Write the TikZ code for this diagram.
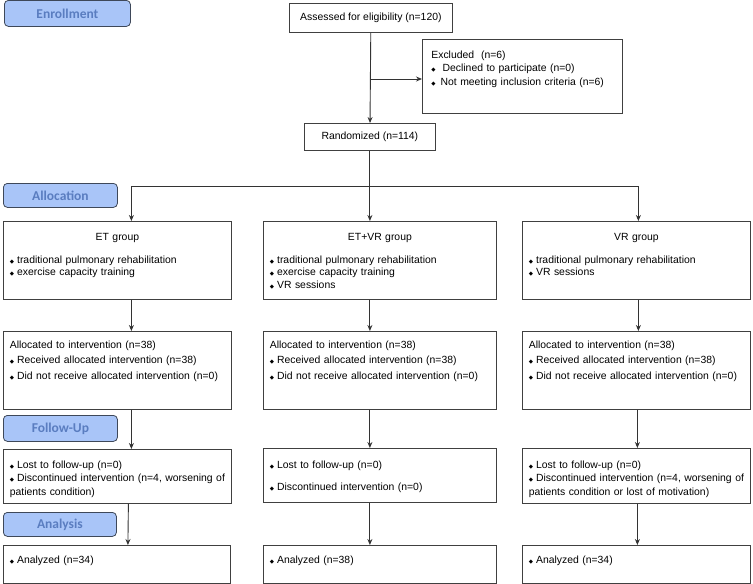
\documentclass[tikz,border=0pt]{standalone}
\usepackage{fontspec}
\setmainfont{Liberation Sans}
\newfontfamily\phasefont{Carlito}
\newfontfamily\symfont{DejaVu Sans}
\usetikzlibrary{arrows.meta}

\definecolor{phasefill}{HTML}{A9C5F8}
\definecolor{phasetext}{HTML}{5A7DC0}
\definecolor{phaseline}{HTML}{3E4859}

% small diamond bullet
\newcommand\bul{{\symfont\fontsize{5.5}{5}\selectfont ◆}\hspace{3pt}}

\begin{document}
\begin{tikzpicture}[x=1pt,y=-1pt,
    phase/.style={draw=phaseline, fill=phasefill, rounded corners=4pt, line width=0.8pt, anchor=north west, inner sep=0pt, text=phasetext, font=\fontsize{13.5}{15}\selectfont\phasefont\bfseries},
    box/.style={draw=black!75, line width=0.8pt, anchor=north west, inner xsep=6.5pt, inner ysep=0pt, align=left, font=\fontsize{10.4}{13.5}\selectfont},
    onebox/.style={draw=black!75, line width=0.8pt, anchor=north west, inner sep=0pt, font=\fontsize{10.4}{13.5}\selectfont},
    arr/.style={draw=black!80, line width=0.9pt, -{Stealth[length=6pt,width=5pt]}}]

    \useasboundingbox (0,0) rectangle (753,584);

    % Phase labels
    \node[phase, minimum width=126pt, minimum height=26pt] (enrol) at (4,0) {Enrollment};
    \node[phase, minimum width=114pt, minimum height=24pt] (alloc) at (3,183) {Allocation};
    \node[phase, minimum width=114pt, minimum height=26pt] (follow) at (3,415) {Follow-Up};
    \node[phase, minimum width=113pt, minimum height=24pt] (analys) at (3,512) {Analysis};

    % Enrollment
    \node[onebox, minimum width=163pt, minimum height=29pt] (assess) at (289,3) {Assessed for eligibility (n=120)};
    \node[box, inner xsep=9pt, text width=182pt, text height=18.7pt, text depth=55.3pt] (excl) at (422,39)
        {Excluded\ \ (n=6)\\\bul\hspace{4pt}Declined to participate (n=0)\\\bul\hspace{2pt}Not meeting inclusion criteria (n=6)};
    \node[onebox, minimum width=131pt, minimum height=27pt] (rand) at (304,123) {Randomized (n=114)};

    % Groups
    \node[box, text width=215pt, text height=18.7pt, text depth=59.3pt] (et) at (3,221)
        {\makebox[\linewidth]{ET group}\\[9.5pt]\bul traditional pulmonary rehabilitation\\[-1pt]\bul exercise capacity training};
    \node[box, text width=220pt, text height=18.7pt, text depth=59.3pt] (etvr) at (263,221)
        {\makebox[\linewidth]{ET+VR group}\\[9.5pt]\bul traditional pulmonary rehabilitation\\[-1pt]\bul exercise capacity training\\[-1pt]\bul VR sessions};
    \node[box, text width=215pt, text height=18.7pt, text depth=59.3pt] (vr) at (522,221)
        {\makebox[\linewidth]{VR group}\\[9.5pt]\bul traditional pulmonary rehabilitation\\[-1pt]\bul VR sessions};

    % Allocated
    \node[box, text width=215pt, text height=16.7pt, text depth=61.3pt] (alET) at (3,331)
        {Allocated to intervention (n=38)\\[2pt]\bul Received allocated intervention (n=38)\\[2pt]\bul Did not receive allocated intervention (n=0)};
    \node[box, text width=220pt, text height=16.7pt, text depth=61.3pt] (alETVR) at (263,331)
        {Allocated to intervention (n=38)\\[2pt]\bul Received allocated intervention (n=38)\\[2pt]\bul Did not receive allocated intervention (n=0)};
    \node[box, text width=215pt, text height=16.7pt, text depth=61.3pt] (alVR) at (522,331)
        {Allocated to intervention (n=38)\\[2pt]\bul Received allocated intervention (n=38)\\[2pt]\bul Did not receive allocated intervention (n=0)};

    % Follow-up
    \node[box, text width=215pt, text height=18.7pt, text depth=35.3pt] (fuET) at (3,449)
        {\bul Lost to follow-up (n=0)\\\mbox{\bul Discontinued intervention (n=4, worsening of}\\patients condition)};
    \node[box, text width=220pt, text height=19.7pt, text depth=34.3pt] (fuETVR) at (263,448)
        {\bul Lost to follow-up (n=0)\\[8.5pt]\bul Discontinued intervention (n=0)};
    \node[box, text width=215pt, text height=19.7pt, text depth=35.3pt] (fuVR) at (522,448)
        {\bul Lost to follow-up (n=0)\\\mbox{\bul Discontinued intervention (n=4, worsening of}\\patients condition or lost of motivation)};

    % Analysis
    \node[box, text width=214pt, text height=17.7pt, text depth=20.3pt] (anET) at (3,545) {\bul Analyzed (n=34)};
    \node[box, text width=220pt, text height=17.7pt, text depth=20.3pt] (anETVR) at (263,545) {\bul Analyzed (n=38)};
    \node[box, text width=215pt, text height=17.7pt, text depth=20.3pt] (anVR) at (522,545) {\bul Analyzed (n=34)};

    % Connectors
    \draw[arr] (assess) -- (rand);
    \coordinate (exj) at (assess.south |- 0,79);
    \draw[arr] (exj) -- (exj -| excl.west);
    \coordinate (fork) at (rand.south |- 0,186);
    \draw[arr] (rand) -- (rand |- etvr.north);
    \draw[arr] (fork) -| ([xshift=14pt]et.north);
    \draw[arr] (fork) -| ([xshift=2pt]vr.north);

    \draw[arr] ([xshift=14pt]et.south) -- ([xshift=14pt]alET.north);
    \draw[arr] ([xshift=14pt]alET.south) -- ([xshift=14pt]fuET.north);
    \draw[arr] ([xshift=11pt]fuET.south) -- ([xshift=11pt]anET.north);

    \draw[arr] ([xshift=-10pt]etvr.south) -- ([xshift=-10pt]alETVR.north);
    \draw[arr] ([xshift=-10pt]alETVR.south) -- ([xshift=-10pt]fuETVR.north);
    \draw[arr] ([xshift=-10pt]fuETVR.south) -- ([xshift=-10pt]anETVR.north);

    \draw[arr] ([xshift=2pt]vr.south) -- ([xshift=2pt]alVR.north);
    \draw[arr] ([xshift=1pt]alVR.south) -- ([xshift=1pt]fuVR.north);
    \draw[arr] ([xshift=1pt]fuVR.south) -- ([xshift=1pt]anVR.north);

\end{tikzpicture}
\end{document}
